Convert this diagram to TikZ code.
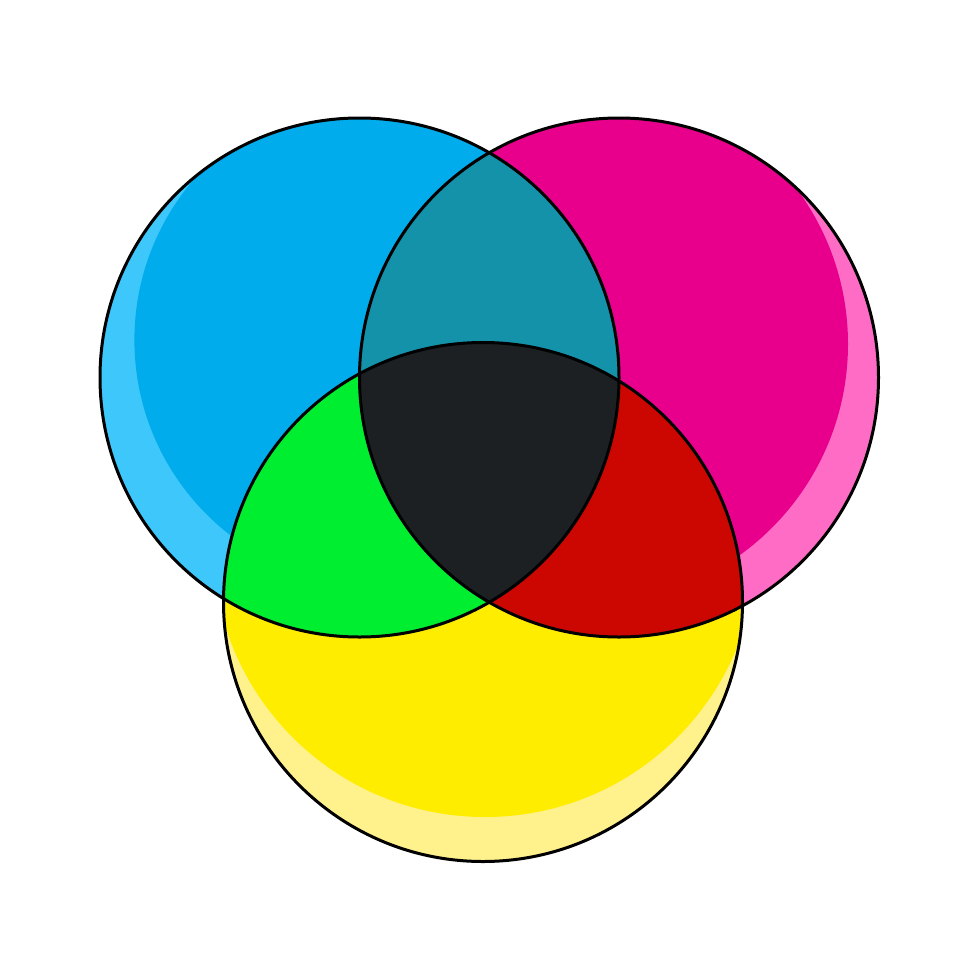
\documentclass[tikz,border=0pt]{standalone}
\begin{document}
\begin{tikzpicture}[x=0.5pt,y=-0.5pt,
  outline/.style={draw=black,line width=1.5pt}]
\definecolor{cyanmain}{RGB}{0,172,236}
\definecolor{cyanlight}{RGB}{62,199,250}
\definecolor{magmain}{RGB}{232,0,140}
\definecolor{maglight}{RGB}{255,108,198}
\definecolor{yelmain}{RGB}{255,237,0}
\definecolor{yellight}{RGB}{255,241,140}
\definecolor{tealmix}{RGB}{20,146,170}
\definecolor{darkmix}{RGB}{28,32,35}
\definecolor{greenmix}{RGB}{0,238,48}
\definecolor{redmix}{RGB}{204,7,2}
\useasboundingbox (0,0) rectangle (980,980);
\fill[white] (0,0) rectangle (980,980);
\def\R{129.75pt}
\coordinate (C) at (359.5,377.5);
\coordinate (M) at (619,377.5);
\coordinate (Y) at (483,602);
% cyan
\fill[cyanlight] (C) circle[radius=\R];
\begin{scope}
  \clip (C) circle[radius=\R];
  \fill[cyanmain] (381,340) circle[radius=123.3pt];
\end{scope}
% magenta
\fill[maglight] (M) circle[radius=\R];
\begin{scope}
  \clip (M) circle[radius=\R];
  \fill[magmain] (588,344) circle[radius=130pt];
\end{scope}
% yellow
\fill[yellight] (Y) circle[radius=\R];
\begin{scope}
  \clip (Y) circle[radius=\R];
  \fill[yelmain] (485,545) circle[radius=136pt];
\end{scope}
% overlaps
\begin{scope}
  \clip (C) circle[radius=\R];
  \fill[tealmix] (M) circle[radius=\R];
  \fill[greenmix] (Y) circle[radius=\R];
\end{scope}
\begin{scope}
  \clip (M) circle[radius=\R];
  \fill[redmix] (Y) circle[radius=\R];
\end{scope}
\begin{scope}
  \clip (C) circle[radius=\R];
  \clip (M) circle[radius=\R];
  \fill[darkmix] (Y) circle[radius=\R];
\end{scope}
% outlines
\draw[outline] (C) circle[radius=\R];
\draw[outline] (M) circle[radius=\R];
\draw[outline] (Y) circle[radius=\R];
\end{tikzpicture}
\end{document}
